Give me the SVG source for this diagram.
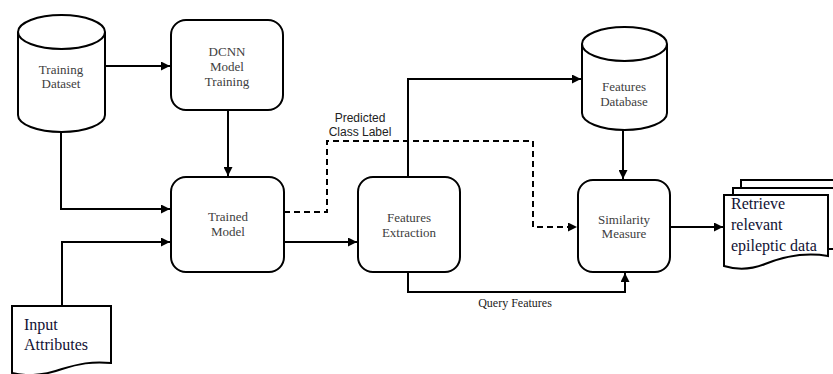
<svg xmlns="http://www.w3.org/2000/svg" width="833" height="374" viewBox="0 0 833 374">
<style>
.shape{fill:#fff;stroke:#000;stroke-width:2}
.line{fill:none;stroke:#000;stroke-width:2}
.dash{fill:none;stroke:#000;stroke-width:2;stroke-dasharray:6,4}
.t{font-family:"Liberation Serif",serif;font-size:13px;fill:#404040;text-anchor:middle}
.lbl{font-family:"Liberation Sans",sans-serif;font-size:12px;fill:#222;text-anchor:middle}
.doc{font-family:"Liberation Serif",serif;font-size:16px;fill:#111133}
</style>
<defs>
<marker id="arr" viewBox="0 0 10 10" refX="10" refY="5" markerWidth="4.5" markerHeight="4.5" orient="auto" markerUnits="strokeWidth">
<path d="M0,0 L10,5 L0,10 z" fill="#000"/>
</marker>
</defs>
<rect width="833" height="374" fill="#fff"/>
<g id="connectors">
<path class="line" d="M105,66 H170" marker-end="url(#arr)"/>
<path class="line" d="M228,110 V176" marker-end="url(#arr)"/>
<path class="line" d="M61,118 V209 H170" marker-end="url(#arr)"/>
<path class="line" d="M62,306 V242 H170" marker-end="url(#arr)"/>
<path class="line" d="M284,242 H357" marker-end="url(#arr)"/>
<path class="dash" d="M284,212 H327 V141 H533 V227 H577" marker-end="url(#arr)"/>
<path class="line" d="M408,177 V79 H581" marker-end="url(#arr)"/>
<path class="line" d="M623,130 V179" marker-end="url(#arr)"/>
<path class="line" d="M408,272 V292 H625 V273" marker-end="url(#arr)"/>
<path class="line" d="M670,227 H723" marker-end="url(#arr)"/>
<text class="lbl" x="360" y="122">Predicted</text>
<text class="lbl" x="360" y="136">Class Label</text>
<text class="t" x="515" y="307" style="font-size:12px;fill:#222">Query Features</text>
</g>
<g id="training-dataset">
<path class="shape" d="M18,32 V115 A43.5,17 0 0 0 105,115 V32 A43.5,17 0 0 0 18,32 Z"/>
<path class="line" d="M18,32 A43.5,17 0 0 0 105,32"/>
<text class="t" x="61" y="74">Training</text>
<text class="t" x="61" y="88">Dataset</text>
</g>
<g id="dcnn">
<rect class="shape" x="171" y="20" width="112" height="90" rx="15"/>
<text class="t" x="227" y="56">DCNN</text>
<text class="t" x="227" y="71">Model</text>
<text class="t" x="227" y="86">Training</text>
</g>
<g id="trained-model">
<rect class="shape" x="171" y="177" width="113" height="95" rx="15"/>
<text class="t" x="228" y="221">Trained</text>
<text class="t" x="228" y="236">Model</text>
</g>
<g id="features-extraction">
<rect class="shape" x="358" y="177" width="102" height="95" rx="15"/>
<text class="t" x="409" y="222">Features</text>
<text class="t" x="409" y="237">Extraction</text>
</g>
<g id="features-database">
<path class="shape" d="M582,44 V113 A42.5,17 0 0 0 667,113 V44 A42.5,17 0 0 0 582,44 Z"/>
<path class="line" d="M582,44 A42.5,17 0 0 0 667,44"/>
<text class="t" x="624" y="91">Features</text>
<text class="t" x="624" y="106">Database</text>
</g>
<g id="similarity-measure">
<rect class="shape" x="578" y="180" width="92" height="92" rx="15"/>
<text class="t" x="624" y="224">Similarity</text>
<text class="t" x="624" y="238">Measure</text>
</g>
<g id="retrieve">
<path class="shape" d="M741,180 H845 V241 H741 Z"/>
<path class="shape" d="M733,188 H837 V249 H733 Z"/>
<path class="shape" d="M724,195 H828 V256 C805,252 785,256 765,264 C750,270 737,270 724,266 Z"/>
<text class="doc" x="731" y="209">Retrieve</text>
<text class="doc" x="731" y="230">relevant</text>
<text class="doc" x="731" y="251">epileptic data</text>
</g>
<g id="input-attributes">
<path class="shape" d="M12,306 H111 V363 C92,361 78,364 62,369 C45,375 28,377 12,373 Z"/>
<text class="doc" x="24" y="330">Input</text>
<text class="doc" x="24" y="350">Attributes</text>
</g>
</svg>
